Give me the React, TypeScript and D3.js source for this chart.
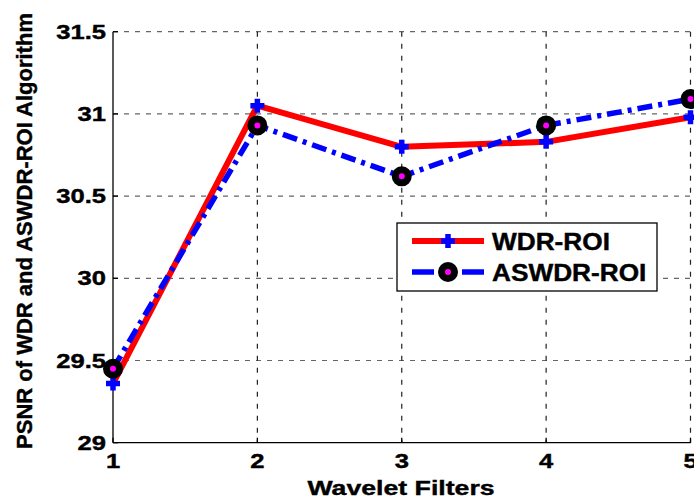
import React from 'react';
import * as d3 from 'd3';

// data
const filters = [1, 2, 3, 4, 5];
const wdrRoi = [29.36, 31.05, 30.8, 30.83, 30.98];
const aswdrRoi = [29.45, 30.93, 30.62, 30.93, 31.09];
const yTicks = [29, 29.5, 30, 30.5, 31, 31.5];
const seriesNames = ['WDR-ROI', 'ASWDR-ROI'];

const W = 694;
const H = 499;
const FONT = 'Arial, "Liberation Sans", Helvetica, sans-serif';

const x = d3.scaleLinear().domain([1, 5]).range([113, 690.5]);
const y = d3.scaleLinear().domain([29, 31.5]).range([442.7, 31.7]);

const line = d3
  .line<number>()
  .x((_, i) => x(filters[i]))
  .y((d) => y(d));

// stretched text (the original figure is wider than tall)
const SText = ({ x: tx, y: ty, sx = 1.28, size = 20, anchor = 'middle', children }: any) => (
  <text
    transform={`translate(${tx},${ty}) scale(${sx},1)`}
    textAnchor={anchor}
    fontFamily={FONT}
    fontWeight="bold"
    fontSize={size}
    fill="#000"
    stroke="#000"
    strokeWidth={0.4}
  >
    {children}
  </text>
);

const Plus = ({ cx, cy }: { cx: number; cy: number }) => (
  <path
    d={`M${cx - 7},${cy}H${cx + 7}M${cx},${cy - 7}V${cy + 7}`}
    stroke="#0000ff"
    strokeWidth={5.5}
  />
);

const Ring = ({ cx, cy }: { cx: number; cy: number }) => (
  <circle cx={cx} cy={cy} r={6.5} fill="#ff00ff" stroke="#000" strokeWidth={7} />
);

export default function App() {
  const [x0, x1] = x.range();
  const [yb, yt] = y.range();
  const dashDot = '15,6,4,6';

  return (
    <svg
      width={W}
      height={H}
      style={{ position: 'absolute', left: 0, top: 0, background: '#fff' }}
    >
      <rect width={W} height={H} fill="#fff" />

      {/* grid */}
      {yTicks.slice(1).map((t) => (
        <line key={'gy' + t} x1={x0} x2={x1} y1={y(t)} y2={y(t)} stroke="#666" strokeWidth={1.2} strokeDasharray="5,6" />
      ))}
      {filters.slice(1).map((f) => (
        <line key={'gx' + f} x1={x(f)} x2={x(f)} y1={yt} y2={yb} stroke="#222" strokeWidth={1.2} strokeDasharray="5,7" />
      ))}

      {/* axes */}
      <line x1={x0} x2={x0} y1={yt} y2={yb} stroke="#000" strokeWidth={1.3} />
      <line x1={x0} x2={x1} y1={yb} y2={yb} stroke="#000" strokeWidth={1.3} />
      {yTicks.map((t) => (
        <g key={'ty' + t}>
          <line x1={x0} x2={x0 + 5} y1={y(t)} y2={y(t)} stroke="#000" strokeWidth={1.3} />
          <SText x={106} y={y(t) + 7} anchor="end">{String(t)}</SText>
        </g>
      ))}
      {filters.map((f) => (
        <g key={'tx' + f}>
          <line x1={x(f)} x2={x(f)} y1={yb} y2={yb - 5} stroke="#000" strokeWidth={1.3} />
          <SText x={x(f)} y={468}>{String(f)}</SText>
        </g>
      ))}

      {/* axis labels */}
      <SText x={401} y={495} sx={1.27} size={21}>Wavelet Filters</SText>
      <text
        transform="translate(32,231) rotate(-90)"
        textAnchor="middle"
        fontFamily={FONT}
        fontWeight="bold"
        fontSize={22}
        stroke="#000"
        strokeWidth={0.4}
      >
        PSNR of WDR and ASWDR-ROI Algorithm
      </text>

      {/* series */}
      <path d={line(wdrRoi) ?? ''} fill="none" stroke="#ff0000" strokeWidth={6} strokeLinejoin="round" />
      {wdrRoi.map((v, i) => (
        <Plus key={'p' + i} cx={x(filters[i])} cy={y(v)} />
      ))}
      <path d={line(aswdrRoi) ?? ''} fill="none" stroke="#0000ff" strokeWidth={5.5} strokeDasharray={dashDot} />
      {aswdrRoi.map((v, i) => (
        <Ring key={'r' + i} cx={x(filters[i])} cy={y(v)} />
      ))}

      {/* legend */}
      <rect x={397} y={223} width={260} height={68} fill="#fff" stroke="#000" strokeWidth={1.3} />
      <line x1={412} x2={484} y1={241} y2={241} stroke="#ff0000" strokeWidth={6} />
      <Plus cx={448} cy={241} />
      <SText x={492} y={250} sx={1.14} size={23} anchor="start">{seriesNames[0]}</SText>
      <line x1={412} x2={434} y1={272} y2={272} stroke="#0000ff" strokeWidth={5.5} />
      <line x1={462} x2={484} y1={272} y2={272} stroke="#0000ff" strokeWidth={5.5} />
      <Ring cx={448} cy={272} />
      <SText x={492} y={281} sx={1.14} size={23} anchor="start">{seriesNames[1]}</SText>
    </svg>
  );
}
